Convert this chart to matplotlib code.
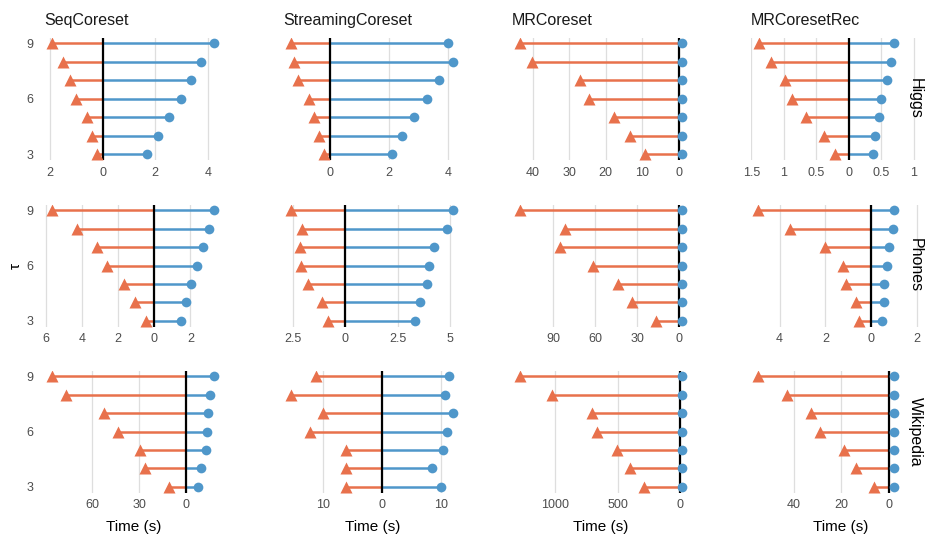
import matplotlib
matplotlib.use("Agg")
import matplotlib.pyplot as plt
import numpy as np

plt.rcParams['font.family'] = ['Liberation Sans', 'DejaVu Sans']

methods = ['SeqCoreset', 'StreamingCoreset', 'MRCoreset', 'MRCoresetRec']
datasets = ['Higgs', 'Phones', 'Wikipedia']
tau = [3, 4, 5, 6, 7, 8, 9]

# orange (left side) times, one list per method, tau = 3..9
higgs_left = [
    [0.23, 0.42, 0.61, 1.00, 1.25, 1.50, 1.92],
    [0.21, 0.37, 0.54, 0.70, 1.07, 1.23, 1.31],
    [9.2, 13.2, 17.7, 24.5, 27.0, 40.3, 43.5],
    [0.21, 0.375, 0.66, 0.87, 0.98, 1.20, 1.38],
]
phones_left = [
    [0.48, 1.07, 1.66, 2.60, 3.18, 4.25, 5.64],
    [0.85, 1.09, 1.76, 2.14, 2.17, 2.06, 2.58],
    [16.7, 34.0, 43.8, 61.4, 85.0, 82.0, 114.0],
    [0.54, 0.66, 1.09, 1.23, 2.00, 3.53, 4.94],
]
wiki_left = [
    [10.8, 26.3, 29.4, 43.6, 52.1, 76.3, 85.2],
    [6.1, 6.0, 6.1, 12.2, 9.9, 15.3, 11.1],
    [285, 399, 508, 665, 708, 1024, 1285],
    [6.2, 13.9, 18.9, 29.1, 32.8, 42.9, 55.0],
]

# blue (right side) times
higgs_right = [
    [1.68, 2.10, 2.52, 2.98, 3.36, 3.76, 4.24],
    [2.11, 2.46, 2.84, 3.31, 3.69, 4.18, 4.00],
    [0.9, 0.9, 0.9, 0.9, 0.9, 0.9, 0.9],
    [0.38, 0.40, 0.47, 0.50, 0.59, 0.65, 0.70],
]
phones_right = [
    [1.47, 1.75, 2.03, 2.36, 2.69, 3.00, 3.31],
    [3.33, 3.55, 3.92, 3.99, 4.24, 4.86, 5.15],
    [1.9, 1.9, 1.9, 1.9, 1.9, 1.9, 1.9],
    [0.45, 0.55, 0.57, 0.67, 0.76, 0.94, 0.98],
]
wiki_right = [
    [7.6, 9.3, 12.5, 13.3, 14.2, 15.3, 17.8],
    [10.0, 8.4, 10.3, 10.9, 12.0, 10.65, 11.3],
    [16, 16, 16, 16, 16, 16, 16],
    [2.2, 2.2, 2.2, 2.2, 2.2, 2.2, 2.2],
]

# tick positions per panel (labels show absolute values)
higgs_ticks = [[-2, 0, 2, 4], [0, 2, 4], [-40, -30, -20, -10, 0], [-1.5, -1, -0.5, 0, 0.5, 1]]
phones_ticks = [[-6, -4, -2, 0, 2], [-2.5, 0, 2.5, 5], [-90, -60, -30, 0], [-4, -2, 0, 2]]
wiki_ticks = [[-60, -30, 0], [-10, 0, 10], [-1000, -500, 0], [-40, -20, 0]]
rec_xmax = [1.24, 2.52, 16.9]  # last column leaves room on the right

left_all = [higgs_left, phones_left, wiki_left]
right_all = [higgs_right, phones_right, wiki_right]
ticks_all = [higgs_ticks, phones_ticks, wiki_ticks]

ORANGE = '#E8714C'
BLUE = '#4F97CA'

W, H = 925, 538
fig = plt.figure(figsize=(W / 100, H / 100), dpi=100)

col_left = [44.2, 283.2, 511.9, 751.2]
row_top = [37.8, 204.5, 370.5]
pw, ph = 178, 122


def fmt(v):
    return '%g' % abs(v)


for r in range(3):
    for c in range(4):
        ax = fig.add_axes([col_left[c] / W, 1 - (row_top[r] + ph) / H, pw / W, ph / H])
        lv = -np.array(left_all[r][c])
        rv = np.array(right_all[r][c])

        ax.hlines(tau, lv, 0, color=ORANGE, lw=1.8, zorder=2)
        ax.hlines(tau, 0, rv, color=BLUE, lw=1.8, zorder=2)
        ax.axvline(0, color='black', lw=1.6, zorder=3)
        ax.plot(lv, tau, '^', color=ORANGE, ms=8, mec='none', zorder=4)
        ax.plot(rv, tau, 'o', color=BLUE, ms=7, mec='none', zorder=4)

        lo, hi = lv.min(), rv.max()
        pad = 0.05 * (hi - lo)
        if c == 3:
            ax.set_xlim(lo - pad, rec_xmax[r])
        else:
            ax.set_xlim(lo - pad, hi + pad)
        ax.set_ylim(2.7, 9.3)

        tk = ticks_all[r][c]
        ax.set_xticks(tk)
        ax.set_xticklabels([fmt(t) for t in tk])
        ax.set_yticks([3, 6, 9])
        if c != 0:
            ax.set_yticklabels([])
        ax.tick_params(length=0, labelsize=9, labelcolor='#4d4d4d')
        ax.tick_params(axis='x', pad=5)
        ax.tick_params(axis='y', pad=8)
        ax.grid(axis='x', color='#dedede', lw=0.9, zorder=0)
        ax.set_axisbelow(True)
        for s in ax.spines.values():
            s.set_visible(False)

        if r == 0:
            ax.set_title(methods[c], loc='left', fontsize=11.5, pad=9, color='#1a1a1a')
        if r == 2:
            ax.set_xlabel('Time (s)', fontsize=11, labelpad=6)
        if c == 0 and r == 1:
            ax.set_ylabel('τ', fontsize=11, labelpad=2)

    fig.text(915.5 / W, 1 - (row_top[r] + ph / 2) / H, datasets[r], rotation=270,
             ha='center', va='center', fontsize=11.5)

fig.savefig('out.png', dpi=100)
